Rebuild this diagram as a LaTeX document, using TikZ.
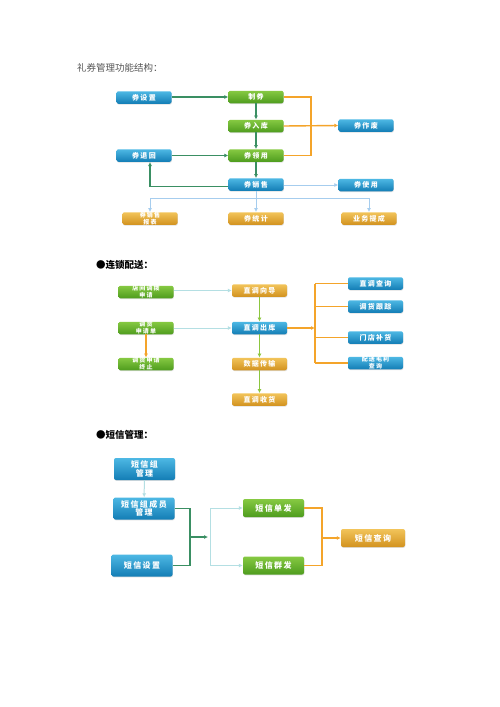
\documentclass[tikz,border=0pt]{standalone}
\usepackage{fontspec}
\setmainfont{Noto Sans CJK SC}
\newfontfamily\boxfont[LetterSpace=18]{Noto Sans CJK SC}
\usetikzlibrary{arrows.meta,shadows}
\definecolor{bluetop}{HTML}{4DB8E4}
\definecolor{bluebot}{HTML}{137DB5}
\definecolor{greentop}{HTML}{86C942}
\definecolor{greenbot}{HTML}{4E9C1E}
\definecolor{goldtop}{HTML}{F2C45A}
\definecolor{goldbot}{HTML}{D2921F}
\definecolor{dkgreen}{HTML}{3A8F63}
\definecolor{orangeln}{HTML}{F4A42A}
\definecolor{ltblue}{HTML}{A6CDEE}
\definecolor{ltcyan}{HTML}{B4DFE3}
\definecolor{ygreen}{HTML}{8CC63F}
\definecolor{titlegray}{HTML}{555555}
\tikzset{
  bx/.style={rounded corners=2pt, text=white, align=center, inner sep=0pt,
    minimum width=55pt, minimum height=12.5pt,
    font=\boxfont\bfseries\fontsize{7}{7}\selectfont,
    drop shadow={shadow xshift=0.4pt, shadow yshift=-0.8pt, opacity=0.25}},
  bluebx/.style={bx, top color=bluetop, bottom color=bluebot},
  greenbx/.style={bx, top color=greentop, bottom color=greenbot},
  goldbx/.style={bx, top color=goldtop, bottom color=goldbot},
  two/.style={font=\boxfont\bfseries\fontsize{6}{5.5}\selectfont},
  big/.style={minimum width=61pt, minimum height=18pt, font=\boxfont\bfseries\fontsize{8}{8.5}\selectfont},
  tip/.style={-{Latex[length=4pt,width=4pt]}},
  dg/.style={draw=dkgreen, line width=1.4pt},
  og/.style={draw=orangeln, line width=1.4pt},
  lb/.style={draw=ltblue, line width=1pt},
  lc/.style={draw=ltcyan, line width=1pt},
  yg/.style={draw=ygreen, line width=1.4pt},
  ttl/.style={anchor=west, inner sep=0pt, font=\fontsize{9.5}{10}\selectfont}
}
\begin{document}
\begin{tikzpicture}[x=1pt,y=-1pt]
\useasboundingbox[fill=white] (0,0) rectangle (500,707);

% ---------- Section 1 ----------
\node[ttl, text=titlegray] (t1) at (77,68) {礼券管理功能结构：};
\node[bluebx]  (a1) at (144,97.5) {券设置};
\node[greenbx] (a2) at (256,97) {制券};
\node[greenbx] (a3) at (256,126) {券入库};
\node[bluebx]  (a4) at (144,155.5) {券退回};
\node[greenbx] (a5) at (256,155.5) {券领用};
\node[bluebx]  (a6) at (256,184.5) {券销售};
\node[bluebx]  (a7) at (366,125.5) {券作废};
\node[bluebx]  (a8) at (366,185) {券使用};
\node[goldbx,two] (a9) at (150,218.5) {券销售\\报表};
\node[goldbx]  (a10) at (256,218.5) {券统计};
\node[goldbx]  (a11) at (369,218.5) {业务提成};

\draw[dg,tip] (a1.east |- a2) -- (a2.west);
\draw[dg,tip] (a2) -- (a3);
\draw[dg,tip] (a3) -- (a5);
\draw[dg,tip] (a5) -- (a6);
\draw[dg,tip] (a4) -- (a5);
\coordinate (ret) at (150,162);
\draw[dg,tip] ([yshift=-2pt]a6.west) -| (ret);
\coordinate (ob) at (311,97);
\draw[og] (a2.east) -| (ob) |- (a5.east);
\draw[og,tip] (a3.east) -- (a7.west);
\draw[lb,tip] (a6.east |- a8) -- (a8.west);
\coordinate (busl) at (150,198);
\coordinate (busr) at (369,198);
\draw[lb] (busl) -- (busr);
\draw[lb,tip] (a6.south) -- (a10.north);
\draw[lb,tip] (busl) -- (a9.north);
\draw[lb,tip] (busr) -- (a11.north);

% ---------- Section 2 ----------
\node[ttl, font=\bfseries\fontsize{9.5}{10}\selectfont] (t2) at (96,265) {●连锁配送：};
\node[greenbx,two] (b1) at (146,292) {店间调拨\\申请};
\node[goldbx]  (b2) at (259.5,290.5) {直调向导};
\node[greenbx,two] (b3) at (146,328) {调货\\申请单};
\node[bluebx]  (b4) at (259.5,328) {直调出库};
\node[greenbx,two] (b5) at (146,364) {调货申请\\终止};
\node[goldbx]  (b6) at (259.5,364) {数据传输};
\node[goldbx]  (b7) at (259.5,399.5) {直调收货};
\node[bluebx]  (c1) at (375.5,283.5) {直调查询};
\node[bluebx]  (c2) at (375.5,306.5) {调货跟踪};
\node[bluebx]  (c3) at (375.5,337.5) {门店补货};
\node[bluebx,two] (c4) at (375.5,363) {配送毛利\\查询};

\draw[lc,tip] (b1.east |- b2) -- (b2.west);
\draw[lc,tip] (b3) -- (b4);
\draw[yg,tip] (b2) -- (b4);
\draw[yg,tip] (b4) -- (b6);
\draw[yg,tip] (b6) -- (b7);
\draw[og,tip] (b3) -- (b5);
\coordinate (brt) at (315,283.5);
\coordinate (brb) at (315,363);
\draw[og,tip] (b4.east) -- (b4.east -| brt);
\draw[og] (brt) -- (brb);
\draw[og] (brt) -- (c1.west);
\draw[og] (brt |- c2) -- (c2.west);
\draw[og] (brt |- c3) -- (c3.west);
\draw[og] (brb) -- (c4.west);

% ---------- Section 3 ----------
\node[ttl, font=\bfseries\fontsize{9.5}{10}\selectfont] (t3) at (96,435) {●短信管理：};
\node[bluebx,big,minimum height=22pt] (d1) at (144.5,469) {短信组\\管理};
\node[bluebx,big,minimum height=22pt] (d2) at (144,508.5) {短信组成员\\管理};
\node[bluebx,big,minimum height=22pt] (d3) at (142,565.5) {短信设置};
\node[greenbx,big] (e1) at (273.5,508) {短信单发};
\node[greenbx,big] (e2) at (273.5,565.5) {短信群发};
\node[goldbx,big,minimum width=64pt] (f1) at (373,538) {短信查询};

\draw[lc,tip] (d1) -- (d2);
\coordinate (mg) at (190,508.5);
\draw[dg] (d2.east) -| (mg) |- (d3.east);
\coordinate (mgm) at (190,537);
\coordinate (mgt) at (208,537);
\draw[dg,tip] (mgm) -- (mgt);
\coordinate (lbt) at (210,508);
\coordinate (lbb) at (210,565.5);
\draw[lc] (lbt) -- (lbb);
\draw[lc,tip] (lbt) -- (e1.west);
\draw[lc,tip] (lbb) -- (e2.west);
\coordinate (orr) at (322,508);
\draw[og] (e1.east) -| (orr) |- (e2.east);
\draw[og,tip] (orr |- f1) -- (f1.west);
\end{tikzpicture}
\end{document}
